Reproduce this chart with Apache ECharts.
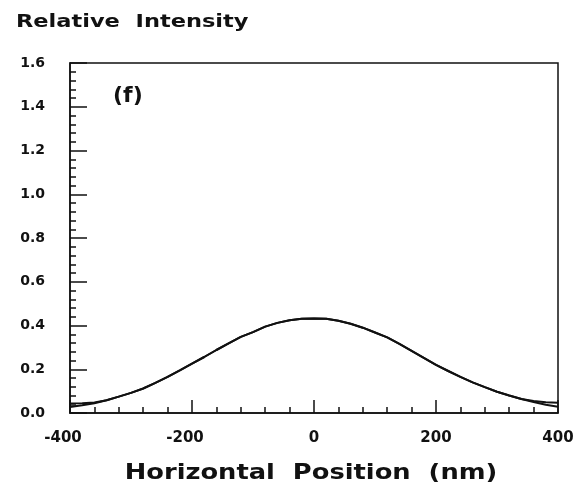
<!DOCTYPE html>
<html>
<head>
<meta charset="utf-8">
<script src="https://cdn.jsdelivr.net/npm/echarts@6/dist/echarts.min.js"></script>
<style>
  html, body { margin: 0; padding: 0; background: #fff; }
  #chart { width: 585px; height: 496px; }
</style>
</head>
<body>
<div id="chart"></div>
<script>
// Horizontal position in nm, sampled every 20 nm
const positions = [
  -400, -380, -360, -340, -320, -300, -280, -260, -240, -220,
  -200, -180, -160, -140, -120, -100, -80, -60, -40, -20,
  0, 20, 40, 60, 80, 100, 120, 140, 160, 180,
  200, 220, 240, 260, 280, 300, 320, 340, 360, 380, 400
];

// Relative intensity, profile reaching the lower tails
const intensityA = [
  0.027, 0.035, 0.045, 0.058, 0.075, 0.092, 0.112, 0.138, 0.165, 0.195,
  0.226, 0.256, 0.288, 0.318, 0.348, 0.370, 0.395, 0.412, 0.424, 0.431,
  0.432, 0.431, 0.422, 0.408, 0.390, 0.368, 0.346, 0.316, 0.284, 0.252,
  0.220, 0.192, 0.165, 0.140, 0.118, 0.097, 0.080, 0.064, 0.050, 0.038, 0.029
];

// Relative intensity, profile levelling off in the tails
const intensityB = [
  0.044, 0.045, 0.048, 0.058, 0.075, 0.092, 0.112, 0.138, 0.165, 0.195,
  0.226, 0.256, 0.288, 0.318, 0.348, 0.370, 0.395, 0.412, 0.424, 0.431,
  0.432, 0.431, 0.422, 0.408, 0.390, 0.368, 0.346, 0.316, 0.284, 0.252,
  0.220, 0.192, 0.165, 0.140, 0.118, 0.097, 0.080, 0.064, 0.055, 0.049, 0.047
];

const xTicks = [-400, -200, 0, 200, 400];
const yTicks = [0.0, 0.2, 0.4, 0.6, 0.8, 1.0, 1.2, 1.4, 1.6];

const yLabel = 'Relative  Intensity';
const xLabel = 'Horizontal  Position  (nm)';
const panelLabel = '(f)';

const FONT = '"DejaVu Sans", "Liberation Sans", sans-serif';
const INK = '#111';

const chart = echarts.init(document.getElementById('chart'), null, { renderer: 'canvas' });

const pairs = (ys) => positions.map((x, i) => [x, ys[i]]);

chart.setOption({
  backgroundColor: '#fff',
  animation: false,
  grid: {
    left: 70, right: 27, top: 63, bottom: 83,
    show: true, borderColor: INK, borderWidth: 1.5, backgroundColor: 'transparent'
  },
  xAxis: {
    type: 'value',
    min: xTicks[0], max: xTicks[xTicks.length - 1], interval: 200,
    axisLine: { show: true, onZero: false, lineStyle: { color: INK, width: 1.5 } },
    axisTick: { show: true, inside: true, length: 13, lineStyle: { color: INK, width: 1.5 } },
    minorTick: { show: true, splitNumber: 5, length: 6, lineStyle: { color: INK, width: 1.5 } },
    splitLine: { show: false },
    axisLabel: {
      margin: 18,
      fontFamily: FONT, fontWeight: 'bold', fontSize: 15, color: INK,
      formatter: (v) => v < 0 ? '{n|' + v + '}' : '{p|' + v + '}',
      rich: {
        n: { fontFamily: FONT, fontWeight: 'bold', fontSize: 15, color: INK, padding: [0, 14, 0, 0] },
        p: { fontFamily: FONT, fontWeight: 'bold', fontSize: 15, color: INK }
      }
    }
  },
  yAxis: {
    type: 'value',
    min: yTicks[0], max: yTicks[yTicks.length - 1], interval: 0.2,
    axisLine: { show: true, onZero: false, lineStyle: { color: INK, width: 1.5 } },
    axisTick: { show: true, inside: true, length: 17, lineStyle: { color: INK, width: 1.5 } },
    minorTick: { show: true, splitNumber: 5, length: 6, lineStyle: { color: INK, width: 1.5 } },
    splitLine: { show: false },
    axisLabel: {
      margin: 25,
      fontFamily: FONT, fontWeight: 'bold', fontSize: 14, color: INK,
      formatter: (v) => v.toFixed(1)
    }
  },
  series: [
    {
      type: 'line', data: pairs(intensityA), showSymbol: false, symbol: 'none',
      lineStyle: { color: INK, width: 2 }, z: 3
    },
    {
      type: 'line', data: pairs(intensityB), showSymbol: false, symbol: 'none',
      lineStyle: { color: INK, width: 2 }, z: 3
    }
  ],
  graphic: [
    {
      type: 'text', x: 16, y: 22, scaleX: 1.25, originX: 0, originY: 0,
      style: {
        text: yLabel, font: 'bold 18px ' + FONT, fill: INK,
        textAlign: 'left', textVerticalAlign: 'middle', align: 'left', verticalAlign: 'middle'
      }
    },
    {
      type: 'text', x: 311, y: 473, scaleX: 1.17, originX: 0, originY: 0,
      style: {
        text: xLabel, font: 'bold 22px ' + FONT, fill: INK,
        textAlign: 'center', textVerticalAlign: 'middle', align: 'center', verticalAlign: 'middle'
      }
    },
    {
      type: 'text', x: 113, y: 96,
      style: {
        text: panelLabel, font: 'bold 22px ' + FONT, fill: INK,
        textAlign: 'left', textVerticalAlign: 'middle', align: 'left', verticalAlign: 'middle'
      }
    }
  ]
});
</script>
</body>
</html>
